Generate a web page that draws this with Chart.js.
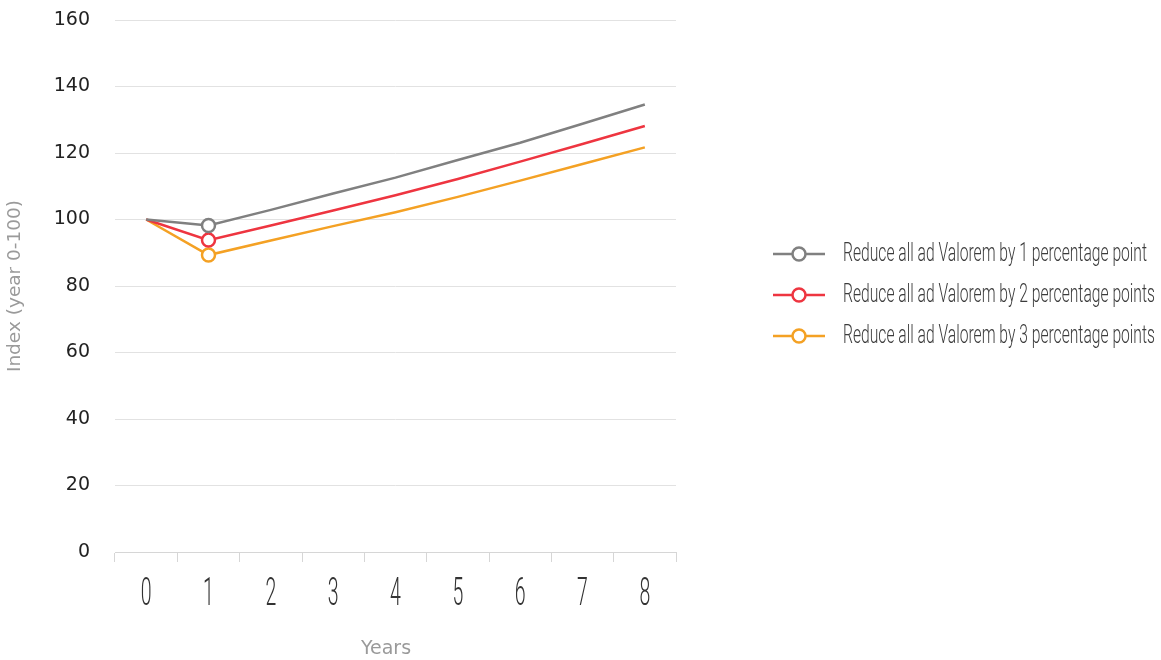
<!DOCTYPE html>
<html>
<head>
<meta charset="utf-8">
<script src="https://cdn.jsdelivr.net/npm/chart.js@4.4.1/dist/chart.umd.min.js"></script>
<style>
  html, body { margin: 0; padding: 0; background: #ffffff; }
  #wrap { width: 1161px; height: 660px; }
</style>
</head>
<body>
<div id="wrap"><canvas id="chart" width="1161" height="660"></canvas></div>
<script>
// Years since the tariff cut
const years = ['0', '1', '2', '3', '4', '5', '6', '7', '8'];

// Series names
const seriesNames = [
  'Reduce all ad Valorem by 1 percentage point',
  'Reduce all ad Valorem by 2 percentage points',
  'Reduce all ad Valorem by 3 percentage points'
];

// Index values (year 0 = 100)
const cutOnePoint    = [100, 98.2, 102.9, 107.8, 112.6, 117.9, 123.1, 128.8, 134.6];
const cutTwoPoints   = [100, 93.8,  98.2, 102.7, 107.3, 112.2, 117.4, 122.7, 128.1];
const cutThreePoints = [100, 89.3,  93.7,  98.0, 102.2, 106.8, 111.7, 116.7, 121.7];

// Value axis ticks
const yTicks = [0, 20, 40, 60, 80, 100, 120, 140, 160];

const seriesColors = ['#808080', '#ee3540', '#f4a124'];
const seriesValues = [cutOnePoint, cutTwoPoints, cutThreePoints];

// Only the year-1 point carries a marker
const markerRadius = years.map((y, i) => (i === 1 ? 6.5 : 0));

const datasets = seriesValues.map((vals, i) => ({
  label: seriesNames[i],
  data: vals,
  borderColor: seriesColors[i],
  backgroundColor: '#ffffff',
  borderWidth: 2.5,
  pointRadius: markerRadius,
  pointHoverRadius: markerRadius,
  pointBackgroundColor: '#ffffff',
  pointBorderColor: seriesColors[i],
  pointBorderWidth: 2.5,
  tension: 0,
  fill: false
}));

// Category axis whose tick labels are drawn horizontally condensed
class CondensedCategoryScale extends Chart.CategoryScale {
  drawLabels(chartArea) {
    const tickOpts = this.options.ticks;
    if (!tickOpts.display) return;
    const squeeze = tickOpts.squeeze || 1;
    const ctx = this.ctx;
    for (const item of this.getLabelItems(chartArea)) {
      const o = item.options;
      ctx.save();
      ctx.translate(o.translation[0], o.translation[1]);
      if (o.rotation) ctx.rotate(o.rotation);
      ctx.scale(squeeze, 1);
      ctx.font = item.font.string;
      ctx.fillStyle = o.color;
      ctx.textAlign = o.textAlign;
      ctx.textBaseline = o.textBaseline;
      const lines = Array.isArray(item.label) ? item.label : [item.label];
      lines.forEach((line, k) => {
        ctx.fillText(String(line), 0, item.textOffset + k * item.font.lineHeight);
      });
      ctx.restore();
    }
  }
}
CondensedCategoryScale.id = 'condensedCategory';
CondensedCategoryScale.defaults = Chart.CategoryScale.defaults;
Chart.register(CondensedCategoryScale);

// Legend drawn as line + hollow circle samples with condensed labels
const lineLegend = {
  id: 'lineLegend',
  afterDraw(chart, args, opts) {
    const ctx = chart.ctx;
    ctx.save();
    ctx.font = opts.font;
    const squeeze = opts.firstWidth / ctx.measureText(chart.data.datasets[0].label).width;
    chart.data.datasets.forEach((ds, i) => {
      const y = opts.top + i * opts.spacing;
      const x0 = opts.left;
      ctx.save();
      ctx.strokeStyle = ds.borderColor;
      ctx.lineWidth = ds.borderWidth;
      ctx.beginPath();
      ctx.moveTo(x0, y);
      ctx.lineTo(x0 + opts.lineLength, y);
      ctx.stroke();
      ctx.beginPath();
      ctx.arc(x0 + opts.lineLength / 2, y, opts.radius, 0, Math.PI * 2);
      ctx.fillStyle = '#ffffff';
      ctx.fill();
      ctx.stroke();
      ctx.fillStyle = opts.color;
      ctx.font = opts.font;
      ctx.textBaseline = 'middle';
      ctx.textAlign = 'left';
      ctx.translate(opts.textLeft, y);
      ctx.scale(squeeze, 1);
      ctx.fillText(ds.label, 0, 1);
      ctx.restore();
    });
    ctx.restore();
  }
};

new Chart(document.getElementById('chart'), {
  type: 'line',
  data: { labels: years, datasets: datasets },
  plugins: [lineLegend],
  options: {
    responsive: false,
    animation: false,
    layout: { padding: { top: 20, right: 485, bottom: 0, left: 0 } },
    plugins: {
      legend: { display: false },
      tooltip: { enabled: false },
      lineLegend: {
        left: 773,
        lineLength: 52,
        radius: 6.5,
        textLeft: 843,
        top: 254,
        spacing: 41,
        firstWidth: 304,
        color: '#3c3c3c',
        font: '300 25px Roboto, "DejaVu Sans", sans-serif'
      }
    },
    scales: {
      x: {
        type: 'condensedCategory',
        offset: true,
        afterFit(scale) { scale.height = 108; },
        border: { display: true, color: '#d6d6d6', width: 1 },
        grid: {
          display: true,
          offset: true,
          drawOnChartArea: false,
          drawTicks: true,
          tickLength: 10,
          color: '#d6d6d6'
        },
        ticks: {
          color: '#333333',
          padding: 10,
          maxRotation: 0,
          autoSkip: false,
          squeeze: 0.5,
          font: { family: 'Roboto, "DejaVu Sans", sans-serif', size: 39, weight: '300' }
        },
        title: {
          display: true,
          text: 'Years\u2003',
          color: '#9a9a9a',
          padding: { top: 0, bottom: 0 },
          font: { family: '"DejaVu Sans", sans-serif', size: 19 }
        }
      },
      y: {
        min: 0,
        max: 160,
        afterFit(scale) { scale.width = 115; },
        afterBuildTicks(scale) { scale.ticks = yTicks.map(v => ({ value: v })); },
        border: { display: false },
        grid: {
          color: '#e2e2e2',
          lineWidth: 1,
          drawTicks: true,
          tickLength: 22,
          tickColor: 'rgba(0,0,0,0)'
        },
        ticks: {
          color: '#222222',
          padding: 3,
          font: { family: '"DejaVu Sans", sans-serif', size: 19 }
        },
        title: {
          display: true,
          text: 'Index (year 0-100)',
          color: '#9a9a9a',
          padding: { top: 4, bottom: 0 },
          font: { family: '"DejaVu Sans", sans-serif', size: 18.5 }
        }
      }
    }
  }
});
</script>
</body>
</html>
